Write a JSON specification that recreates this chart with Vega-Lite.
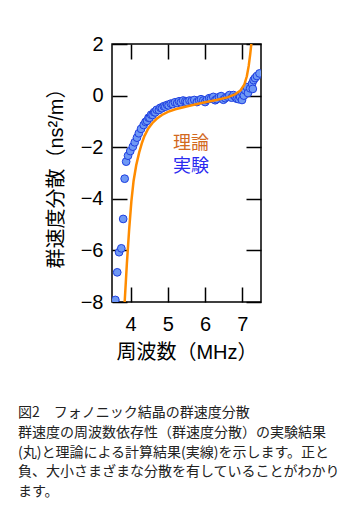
{
  "$schema": "https://vega.github.io/schema/vega-lite/v6.json",
  "width": 149,
  "height": 258,
  "autosize": "none",
  "padding": {"left": 112, "top": 44, "right": 99, "bottom": 213},
  "background": "white",
  "config": {
    "view": {"stroke": "#000", "strokeWidth": 1.5},
    "axis": {
      "grid": false,
      "domain": false,
      "tickColor": "#000",
      "tickWidth": 1.5,
      "tickSize": -15,
      "labelFont": "Liberation Sans",
      "labelFontSize": 20,
      "labelColor": "#000",
      "titleFont": "Liberation Sans, Noto Sans CJK JP",
      "titleFontSize": 20,
      "titleFontWeight": "normal",
      "titleColor": "#000"
    }
  },
  "title": {
    "text": [
      "図2　フォノニック結晶の群速度分散",
      "群速度の周波数依存性（群速度分散）の実験結果",
      "(丸)と理論による計算結果(実線)を示します。正と",
      "負、大小さまざまな分散を有していることがわかり",
      "ます。"
    ],
    "orient": "bottom",
    "anchor": "start",
    "frame": "group",
    "dx": -94,
    "offset": 44,
    "font": "Noto Sans CJK JP",
    "fontSize": 14,
    "fontWeight": "normal",
    "color": "#222",
    "lineHeight": 19.8,
    "baseline": "top"
  },
  "datasets": {
    "exp": [
      {"f": 3.59, "d": -7.92}, {"f": 3.64, "d": -6.85}, {"f": 3.69, "d": -6.07}, {"f": 3.75, "d": -5.92},
      {"f": 3.80, "d": -4.78}, {"f": 3.84, "d": -3.22}, {"f": 3.88, "d": -2.56}, {"f": 3.93, "d": -2.33},
      {"f": 3.99, "d": -2.15}, {"f": 4.06, "d": -1.98}, {"f": 4.11, "d": -1.81}, {"f": 4.17, "d": -1.63},
      {"f": 4.22, "d": -1.46}, {"f": 4.28, "d": -1.29}, {"f": 4.35, "d": -1.14}, {"f": 4.40, "d": -1.02},
      {"f": 4.44, "d": -0.98}, {"f": 4.48, "d": -0.86}, {"f": 4.51, "d": -0.86}, {"f": 4.55, "d": -0.74},
      {"f": 4.59, "d": -0.75}, {"f": 4.63, "d": -0.64}, {"f": 4.66, "d": -0.65}, {"f": 4.70, "d": -0.55},
      {"f": 4.76, "d": -0.56}, {"f": 4.80, "d": -0.47}, {"f": 4.84, "d": -0.49}, {"f": 4.89, "d": -0.41},
      {"f": 4.93, "d": -0.43}, {"f": 4.98, "d": -0.36}, {"f": 5.02, "d": -0.38}, {"f": 5.08, "d": -0.31},
      {"f": 5.13, "d": -0.33}, {"f": 5.19, "d": -0.26}, {"f": 5.25, "d": -0.29}, {"f": 5.30, "d": -0.22},
      {"f": 5.35, "d": -0.26}, {"f": 5.41, "d": -0.19}, {"f": 5.47, "d": -0.22}, {"f": 5.51, "d": -0.25},
      {"f": 5.58, "d": -0.19}, {"f": 5.64, "d": -0.21}, {"f": 5.71, "d": -0.17}, {"f": 5.78, "d": -0.25},
      {"f": 5.84, "d": -0.18}, {"f": 5.89, "d": -0.14}, {"f": 5.95, "d": -0.19}, {"f": 6.00, "d": -0.25},
      {"f": 6.05, "d": -0.16}, {"f": 6.11, "d": -0.10}, {"f": 6.16, "d": -0.12}, {"f": 6.22, "d": -0.05},
      {"f": 6.27, "d": -0.18}, {"f": 6.31, "d": -0.14}, {"f": 6.37, "d": -0.06}, {"f": 6.43, "d": -0.02},
      {"f": 6.49, "d": -0.16}, {"f": 6.54, "d": -0.10}, {"f": 6.60, "d": -0.04}, {"f": 6.65, "d": 0.02},
      {"f": 6.71, "d": -0.08}, {"f": 6.76, "d": 0.02}, {"f": 6.81, "d": -0.05}, {"f": 6.85, "d": -0.12},
      {"f": 6.90, "d": -0.14}, {"f": 6.94, "d": -0.05}, {"f": 6.99, "d": -0.17}, {"f": 7.00, "d": 0.09},
      {"f": 7.04, "d": 0.00}, {"f": 7.08, "d": 0.20}, {"f": 7.12, "d": 0.33}, {"f": 7.15, "d": 0.10},
      {"f": 7.21, "d": 0.28}, {"f": 7.26, "d": 0.46}, {"f": 7.28, "d": 0.26}, {"f": 7.30, "d": 0.60},
      {"f": 7.34, "d": 0.68}, {"f": 7.39, "d": 0.76}, {"f": 7.46, "d": 0.86}
    ],
    "theory": [
      {"f": 3.83, "d": -8.3}, {"f": 3.84, "d": -8.0}, {"f": 3.90, "d": -6.5}, {"f": 3.96, "d": -5.2},
      {"f": 4.02, "d": -4.1}, {"f": 4.08, "d": -3.3}, {"f": 4.15, "d": -2.7}, {"f": 4.23, "d": -2.2},
      {"f": 4.30, "d": -1.85}, {"f": 4.37, "d": -1.57}, {"f": 4.47, "d": -1.28}, {"f": 4.58, "d": -1.07},
      {"f": 4.70, "d": -0.90}, {"f": 4.84, "d": -0.75}, {"f": 5.00, "d": -0.63}, {"f": 5.20, "d": -0.53},
      {"f": 5.50, "d": -0.42}, {"f": 5.90, "d": -0.29}, {"f": 6.30, "d": -0.17}, {"f": 6.60, "d": -0.07},
      {"f": 6.80, "d": 0.05}, {"f": 6.95, "d": 0.20}, {"f": 7.05, "d": 0.42}, {"f": 7.12, "d": 0.75},
      {"f": 7.17, "d": 1.15}, {"f": 7.21, "d": 1.6}, {"f": 7.24, "d": 2.0}, {"f": 7.26, "d": 2.4}
    ]
  },
  "layer": [
    {
      "data": {"name": "exp"},
      "mark": {"type": "point", "filled": true, "shape": "circle", "size": 60, "fill": "#6e98f5", "stroke": "#1f3fe0", "strokeWidth": 1, "opacity": 1, "clip": true},
      "encoding": {
        "x": {"field": "f", "type": "quantitative", "scale": {"domain": [3.5, 7.5], "nice": false},
          "axis": {"orient": "bottom", "values": [4, 5, 6, 7], "labelPadding": 27, "title": "周波数（MHz）", "titlePadding": 8}},
        "y": {"field": "d", "type": "quantitative", "scale": {"domain": [-8, 2], "nice": false},
          "axis": {"orient": "left", "values": [-8, -6, -4, -2, 0, 2], "labelPadding": 24, "title": "群速度分散（ns²/m）", "titlePadding": 14}}
      }
    },
    {
      "data": {"name": "theory"},
      "mark": {"type": "line", "color": "#ff8c00", "strokeWidth": 2.5, "clip": true},
      "encoding": {
        "x": {"field": "f", "type": "quantitative", "axis": {"orient": "top", "values": [4, 5, 6, 7], "labels": false, "title": null}},
        "y": {"field": "d", "type": "quantitative", "axis": {"orient": "right", "values": [-8, -6, -4, -2, 0, 2], "labels": false, "title": null}}
      }
    },
    {
      "data": {"values": [{"t": "理論"}]},
      "mark": {"type": "text", "font": "Noto Sans CJK JP", "fontSize": 18, "color": "#d2691e"},
      "encoding": {
        "x": {"datum": 5.62, "type": "quantitative", "axis": null},
        "y": {"datum": -1.88, "type": "quantitative", "axis": null},
        "text": {"field": "t"}
      }
    },
    {
      "data": {"values": [{"t": "実験"}]},
      "mark": {"type": "text", "font": "Noto Sans CJK JP", "fontSize": 18, "color": "#2a2af0"},
      "encoding": {
        "x": {"datum": 5.62, "type": "quantitative", "axis": null},
        "y": {"datum": -2.76, "type": "quantitative", "axis": null},
        "text": {"field": "t"}
      }
    }
  ],
  "resolve": {"axis": {"x": "independent", "y": "independent"}}
}
